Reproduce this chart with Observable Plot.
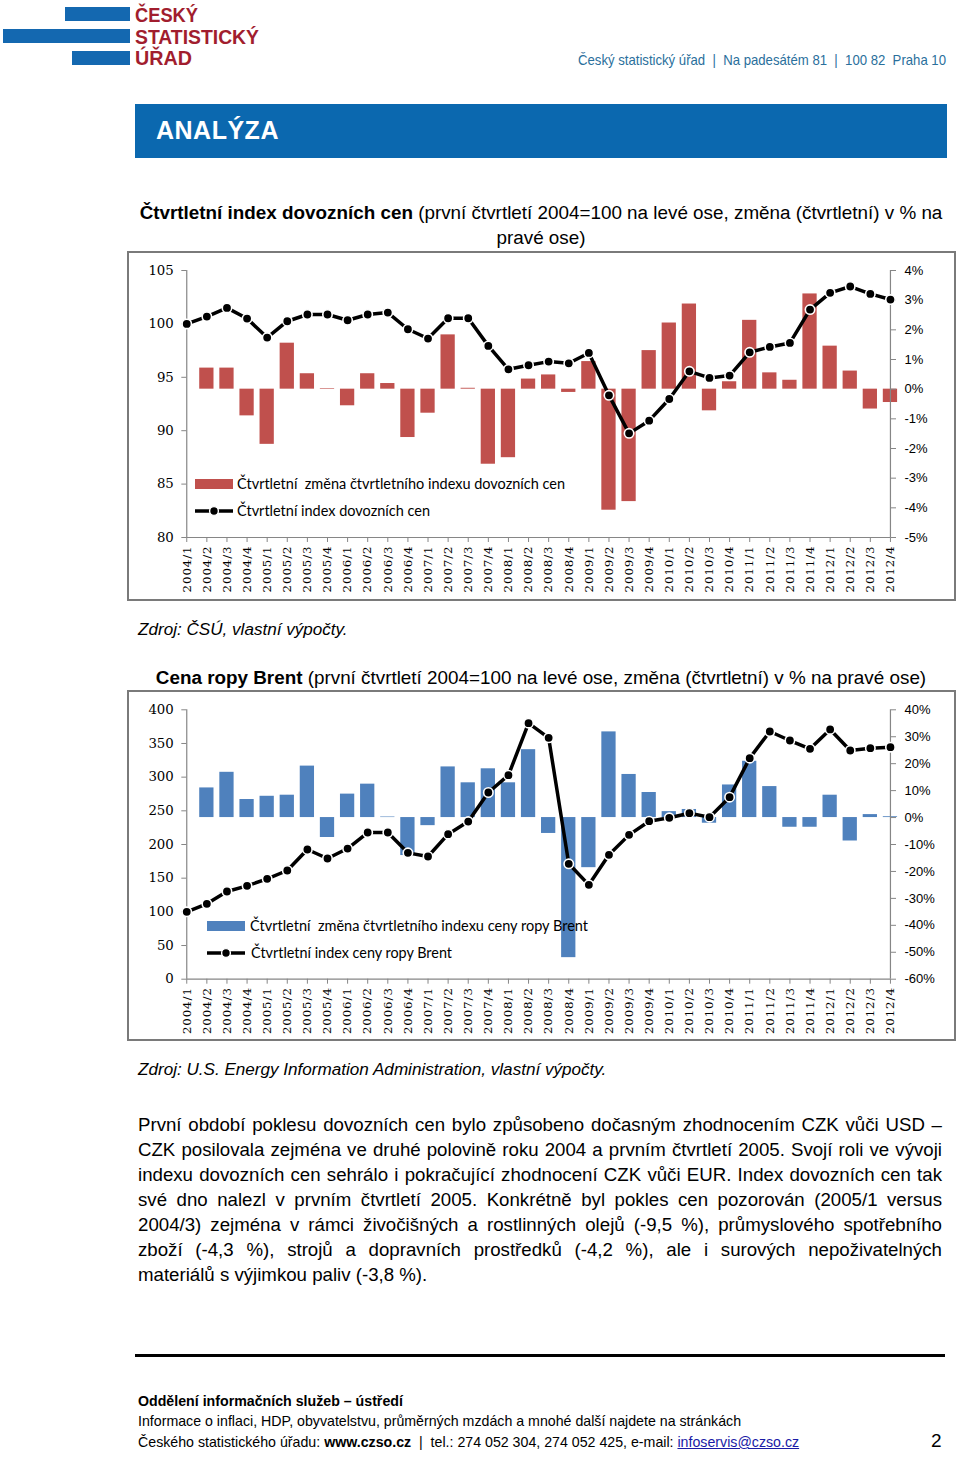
<!DOCTYPE html>
<html><head><meta charset="utf-8">
<script src="https://cdn.jsdelivr.net/npm/d3@7"></script>
<script src="https://cdn.jsdelivr.net/npm/@observablehq/plot@0.6"></script>
<style>
body{margin:0;background:#fff;}
#page{position:relative;width:960px;height:1457px;font-family:"Liberation Sans",Arial,sans-serif;color:#000;overflow:hidden;background:#fff}
.abs{position:absolute;white-space:nowrap}
.bar{position:absolute;background:#1468b0}
.logo{position:absolute;left:135px;font-family:"Liberation Sans",sans-serif;font-weight:bold;color:#a11d2e;font-size:21px;line-height:21px}
.fit{display:inline-block;transform-origin:0 0;white-space:nowrap}
.frame{position:absolute;box-sizing:border-box;border:2px solid #7a7a7a;pointer-events:none}
.chart{position:absolute}
.para{position:absolute;left:138px;width:804px;font-size:18.67px;line-height:25px;text-align:justify;text-align-last:justify;white-space:nowrap}
.para.last{text-align-last:left}
.foot{position:absolute;left:138px;font-family:"Liberation Sans",sans-serif;font-size:14.2px;white-space:nowrap}
g[aria-label="x-axis tick label"] text{letter-spacing:0.9px}
</style></head><body><div id="page">

<div class="bar" style="left:65px;top:7px;width:65px;height:14px"></div>
<div class="bar" style="left:3px;top:29px;width:127px;height:14px"></div>
<div class="bar" style="left:72px;top:51px;width:58px;height:14px"></div>
<div class="logo" style="top:4px"><span class="fit" data-w="63">ČESKÝ</span></div>
<div class="logo" style="top:26px"><span class="fit" data-w="124">STATISTICKÝ</span></div>
<div class="logo" style="top:47px"><span class="fit" data-w="57">ÚŘAD</span></div>
<div class="abs" style="left:578px;top:52px;font-size:14.5px;color:#2a6f9c"><span class="fit" data-w="368">Český statistický úřad&nbsp;&nbsp;|&nbsp;&nbsp;Na padesátém 81&nbsp;&nbsp;|&nbsp;&nbsp;100 82&nbsp;&nbsp;Praha 10</span></div>

<div class="abs" style="left:135px;top:104px;width:812px;height:54px;background:#0b68af"></div>
<div class="abs" style="left:156px;top:116px;font-size:25px;font-weight:bold;color:#fff;letter-spacing:0.5px">ANALÝZA</div>

<div class="abs" style="left:138px;top:200px;width:806px;text-align:center;font-size:18.85px;line-height:25px"><b>Čtvrtletní index dovozních cen</b> (první čtvrtletí 2004=100 na levé ose, změna (čtvrtletní) v % na<br>pravé ose)</div>

<div class="chart" id="c1" style="left:127px;top:251px;width:829px;height:350px"></div>
<div class="frame" style="left:127px;top:251px;width:829px;height:350px"></div>

<div class="abs" style="left:138px;top:620px;font-size:17.1px;font-style:italic">Zdroj: ČSÚ, vlastní výpočty.</div>

<div class="abs" style="left:138px;top:665px;width:806px;text-align:center;font-size:18.85px;line-height:25px"><b>Cena ropy Brent</b> (první čtvrtletí 2004=100 na levé ose, změna (čtvrtletní) v % na pravé ose)</div>

<div class="chart" id="c2" style="left:127px;top:690px;width:829px;height:351px"></div>
<div class="frame" style="left:127px;top:690px;width:829px;height:351px"></div>

<div class="abs" style="left:138px;top:1060px;font-size:17.1px;font-style:italic">Zdroj: U.S. Energy Information Administration, vlastní výpočty.</div>

<div class="para" style="top:1112px">První období poklesu dovozních cen bylo způsobeno dočasným zhodnocením CZK vůči USD –</div>
<div class="para" style="top:1137px">CZK posilovala zejména ve druhé polovině roku 2004 a prvním čtvrtletí 2005. Svojí roli ve vývoji</div>
<div class="para" style="top:1162px">indexu dovozních cen sehrálo i pokračující zhodnocení CZK vůči EUR. Index dovozních cen tak</div>
<div class="para" style="top:1187px">své dno nalezl v&nbsp;prvním čtvrtletí 2005. Konkrétně byl pokles cen pozorován (2005/1 versus</div>
<div class="para" style="top:1212px">2004/3) zejména v&nbsp;rámci živočišných a rostlinných olejů (-9,5 %), průmyslového spotřebního</div>
<div class="para" style="top:1237px">zboží (-4,3 %), strojů a dopravních prostředků (-4,2 %), ale i surových nepoživatelných</div>
<div class="para last" style="top:1262px">materiálů s&nbsp;výjimkou paliv (-3,8 %).</div>

<div class="abs" style="left:135px;top:1354px;width:810px;height:3px;background:#000"></div>
<div class="foot" style="top:1393px;font-weight:bold">Oddělení informačních služeb – ústředí</div>
<div class="foot" style="top:1413px">Informace o inflaci, HDP, obyvatelstvu, průměrných mzdách a mnohé další najdete na stránkách</div>
<div class="foot" style="top:1434px">Českého statistického úřadu: <b>www.czso.cz</b>&nbsp;&nbsp;|&nbsp;&nbsp;tel.: 274 052 304, 274 052 425, e-mail: <span style="color:#1a1aa6;text-decoration:underline">infoservis@czso.cz</span></div>
<div class="abs" style="left:931px;top:1430px;font-size:19px">2</div>

<svg class="abs" style="left:0;top:0;pointer-events:none" width="960" height="1457" id="legends" overflow="visible"></svg>
</div>
<script>
const quarters = ["2004/1","2004/2","2004/3","2004/4","2005/1","2005/2","2005/3","2005/4",
  "2006/1","2006/2","2006/3","2006/4","2007/1","2007/2","2007/3","2007/4",
  "2008/1","2008/2","2008/3","2008/4","2009/1","2009/2","2009/3","2009/4",
  "2010/1","2010/2","2010/3","2010/4","2011/1","2011/2","2011/3","2011/4",
  "2012/1","2012/2","2012/3","2012/4"];

const importIndex = [100.0,100.69,101.5,100.5,98.72,100.25,100.88,100.88,100.34,100.88,101.06,99.5,
  98.63,100.53,100.53,97.94,95.75,96.13,96.47,96.31,97.28,93.31,89.75,90.94,
  92.97,95.56,94.94,95.16,97.34,97.84,98.22,101.34,102.91,103.5,102.81,102.28];
const importChange = [null,0.71,0.71,-0.90,-1.86,1.55,0.52,0.02,-0.56,0.52,0.19,-1.63,
  -0.81,1.83,0.03,-2.53,-2.31,0.34,0.48,-0.11,0.93,-4.08,-3.79,1.30,
  2.23,2.87,-0.73,0.25,2.32,0.55,0.30,3.21,1.45,0.61,-0.67,-0.45];
const importLeftTicks = [80,85,90,95,100,105];
const importRightTicks = [-5,-4,-3,-2,-1,0,1,2,3,4];

const brentIndex = [100,111.9,130.2,138.6,149.0,161.4,192.6,179.2,194.0,217.8,217.8,187.6,
  182.2,215.3,234.1,277.2,302.9,380.2,358.4,171.3,140.1,184.7,214.3,234.6,
  239.6,246.5,240.6,270.3,328.2,367.8,354.4,342.0,370.8,339.6,343.0,344.5];
const brentChange = [null,11.0,16.8,6.7,7.9,8.3,19.1,-7.4,8.7,12.4,0.2,-14.1,
  -3.0,18.8,12.9,18.1,12.9,25.2,-5.9,-52.0,-18.6,31.8,16.0,9.3,
  2.2,3.0,-2.1,12.1,20.9,11.5,-3.6,-3.6,8.3,-8.7,1.1,0.3];
const brentLeftTicks = [0,50,100,150,200,250,300,350,400];
const brentRightTicks = [-60,-50,-40,-30,-20,-10,0,10,20,30,40];

function chart({index, change, leftDomain, rightDomain, leftTicks, rightTicks, barColor, height, marginTop, marginBottom}) {
  const [l0, l1] = leftDomain, [r0, r1] = rightDomain;
  const toLeft = p => l0 + (p - r0) * (l1 - l0) / (r1 - r0);
  const toPct = v => r0 + (v - l0) * (r1 - r0) / (l1 - l0);
  const rows = quarters.map((q, i) => ({q, idx: index[i], chg: change[i]}));
  const bars = rows.filter(d => d.chg != null);
  const axisGray = "#868686";
  return Plot.plot({
    width: 829, height, marginTop, marginBottom, marginLeft: 59.3, marginRight: 66,
    style: {background: "transparent", overflow: "visible"},
    x: {type: "band", domain: quarters, range: [49.2, 773.0], paddingInner: 0.29, paddingOuter: 0.145, round: false, axis: null, label: null},
    y: {domain: leftDomain, axis: null, label: null},
    marks: [
      Plot.barY(bars, {x: "q", y1: toLeft(0), y2: d => toLeft(d.chg), fill: barColor}),
      Plot.ruleY([l0], {stroke: axisGray, strokeWidth: 1.2}),
      Plot.ruleX([quarters[0], quarters[quarters.length - 1]], {y1: l0, y2: l1, stroke: axisGray, strokeWidth: 1.2}),
      Plot.axisY(leftTicks, {anchor: "left", label: null, tickSize: 5, tickPadding: 8, stroke: axisGray, fill: "#000", fontFamily: "DejaVu Serif", fontSize: 13.3}),
      Plot.axisY(rightTicks.map(toLeft), {anchor: "right", label: null, tickSize: 5, tickPadding: 9, stroke: axisGray, fill: "#000", fontFamily: "Liberation Sans", fontSize: 13,
        tickFormat: v => Math.round(toPct(v)) + "%"}),
      Plot.axisX(quarters, {anchor: "bottom", label: null, tickSize: 5, tickPadding: 3, tickRotate: -90, stroke: axisGray, fill: "#000", fontFamily: "DejaVu Serif", fontSize: 11.8}),
      Plot.line(rows, {x: "q", y: "idx", stroke: "#000", strokeWidth: 3.5}),
      Plot.dot(rows, {x: "q", y: "idx", r: 4.7, fill: "#000", stroke: "#fff", strokeWidth: 1.6})
    ]
  });
}

document.getElementById("c1").append(chart({
  index: importIndex, change: importChange, leftDomain: [80, 105], rightDomain: [-5, 4],
  leftTicks: importLeftTicks, rightTicks: importRightTicks, barColor: "#c0504d",
  height: 350, marginTop: 19, marginBottom: 64
}));
document.getElementById("c2").append(chart({
  index: brentIndex, change: brentChange, leftDomain: [0, 400], rightDomain: [-60, 40],
  leftTicks: brentLeftTicks, rightTicks: brentRightTicks, barColor: "#4f81bd",
  height: 351, marginTop: 19.3, marginBottom: 62.3
}));

// legends (drawn on top of the plot areas, like the original)
const legendItems = [
  {type: "bar", color: "#c0504d", x: 195, y: 484, text: "Čtvrtletní  změna čtvrtletního indexu dovozních cen", tx: 237, w: 328},
  {type: "line", x: 195, y: 511, text: "Čtvrtletní index dovozních cen", tx: 237, w: 193},
  {type: "bar", color: "#4f81bd", x: 207, y: 926, text: "Čtvrtletní  změna čtvrtletního indexu ceny ropy Brent", tx: 250, w: 338},
  {type: "line", x: 207, y: 953, text: "Čtvrtletní index ceny ropy Brent", tx: 251, w: 201}
];
const lg = d3.select("#legends");
for (const it of legendItems) {
  if (it.type === "bar") {
    lg.append("rect").attr("x", it.x).attr("y", it.y - 5).attr("width", 38).attr("height", 10).attr("fill", it.color);
  } else {
    lg.append("line").attr("x1", it.x).attr("x2", it.x + 38).attr("y1", it.y).attr("y2", it.y).attr("stroke", "#000").attr("stroke-width", 3.5);
    lg.append("circle").attr("cx", it.x + 19).attr("cy", it.y).attr("r", 4.4).attr("fill", "#000").attr("stroke", "#fff").attr("stroke-width", 1.4);
  }
  lg.append("text").attr("x", it.tx).attr("y", it.y + 5).attr("font-family", "Lato, 'Open Sans', sans-serif").attr("font-size", 14.5)
    .attr("textLength", it.w).attr("lengthAdjust", "spacingAndGlyphs").style("white-space", "pre").text(it.text);
}

// squeeze condensed texts to their original widths
document.querySelectorAll(".fit").forEach(el => {
  const w = el.getBoundingClientRect().width;
  el.style.transform = `scaleX(${(+el.dataset.w) / w})`;
});
</script>
</body></html>
